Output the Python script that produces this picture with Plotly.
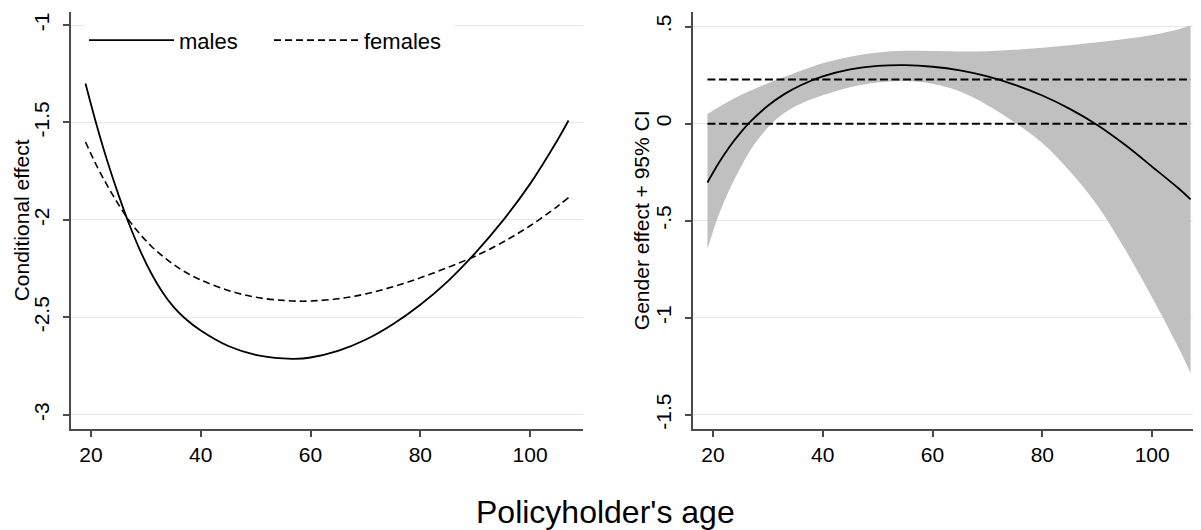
import plotly.graph_objects as go

# ---------------- data ----------------
age_left = [19, 21, 23, 25, 27, 29, 31, 33, 35, 37, 40, 45, 50, 55, 57, 60, 65, 70, 75, 80, 85, 90, 95, 100, 105, 107]
males = [-1.300, -1.510, -1.700, -1.870, -2.025, -2.160, -2.275, -2.370, -2.445, -2.502, -2.568, -2.647,
         -2.692, -2.711, -2.713, -2.706, -2.672, -2.615, -2.535, -2.435, -2.315, -2.170, -2.005, -1.815,
         -1.590, -1.490]
age_left_f = [19, 21, 23, 25, 27, 29, 31, 33, 35, 37, 40, 45, 50, 55, 58, 60, 65, 70, 75, 80, 85, 90, 95, 100, 105, 107]
females = [-1.600, -1.720, -1.825, -1.920, -2.005, -2.075, -2.135, -2.185, -2.228, -2.265, -2.308, -2.362,
           -2.397, -2.413, -2.417, -2.416, -2.405, -2.380, -2.343, -2.297, -2.244, -2.186, -2.115, -2.030,
           -1.930, -1.885]

age_right = [19, 21, 23, 25, 27, 30, 33, 36, 40, 45, 50, 55, 60, 65, 70, 75, 80, 85, 90, 95, 100, 105, 107]
gender_effect = [-0.303, -0.205, -0.120, -0.048, 0.015, 0.092, 0.152, 0.198, 0.243, 0.279, 0.297, 0.301,
                 0.293, 0.274, 0.243, 0.200, 0.145, 0.076, -0.007, -0.108, -0.222, -0.338, -0.390]
ci_upper = [0.050, 0.085, 0.117, 0.146, 0.172, 0.208, 0.240, 0.272, 0.311, 0.345, 0.366, 0.375, 0.374,
            0.371, 0.373, 0.380, 0.391, 0.404, 0.419, 0.436, 0.457, 0.488, 0.507]
ci_lower = [-0.646, -0.475, -0.340, -0.228, -0.130, -0.020, 0.055, 0.103, 0.146, 0.188, 0.212, 0.219, 0.205,
            0.165, 0.095, 0.005, -0.100, -0.245, -0.420, -0.645, -0.895, -1.165, -1.286]
ref_levels = [0.0, 0.227]
ref_span = [19, 107]

left_ticks = [-3, -2.5, -2, -1.5, -1]
left_ticktext = ["-3", "-2.5", "-2", "-1.5", "-1"]
right_ticks = [-1.5, -1, -0.5, 0, 0.5]
right_ticktext = ["-1.5", "-1", "-.5", "0", ".5"]
x_ticks = [20, 40, 60, 80, 100]

FONT = "Liberation Sans, Arial, sans-serif"
AXC = "#4a4a4a"
GRID = "#e6e6e6"

fig = go.Figure()

# left panel
fig.add_trace(go.Scatter(x=age_left, y=males, mode="lines", name="males",
                         line=dict(color="black", width=1.8, shape="spline"),
                         xaxis="x", yaxis="y"))
fig.add_trace(go.Scatter(x=age_left_f, y=females, mode="lines", name="females",
                         line=dict(color="black", width=1.6, dash="7px,4px", shape="spline"),
                         xaxis="x", yaxis="y"))

# right panel band
fig.add_trace(go.Scatter(x=age_right, y=ci_lower, mode="lines", showlegend=False,
                         line=dict(width=0, color="#c0c0c0", shape="spline"),
                         xaxis="x2", yaxis="y2"))
fig.add_trace(go.Scatter(x=age_right, y=ci_upper, mode="lines", showlegend=False,
                         line=dict(width=0, color="#c0c0c0", shape="spline"),
                         fill="tonexty", fillcolor="#c0c0c0",
                         xaxis="x2", yaxis="y2"))
for lvl in ref_levels:
    fig.add_trace(go.Scatter(x=ref_span, y=[lvl, lvl], mode="lines", showlegend=False,
                             line=dict(color="black", width=2, dash="8px,3.5px"),
                             xaxis="x2", yaxis="y2"))
fig.add_trace(go.Scatter(x=age_right, y=gender_effect, mode="lines", showlegend=False,
                         line=dict(color="black", width=1.8, shape="spline"),
                         xaxis="x2", yaxis="y2"))

axis_common = dict(showline=True, linecolor=AXC, linewidth=1.5, ticks="outside",
                   ticklen=6, tickwidth=1.5, tickcolor=AXC, zeroline=False,
                   tickfont=dict(family=FONT, size=21, color="black"))

# the page body adds an 8px offset, so margins are shifted to compensate
fig.update_layout(
    width=1201, height=530,
    margin=dict(l=63, r=8, t=4, b=109),
    paper_bgcolor="white", plot_bgcolor="white",
    font=dict(family=FONT, color="black"),
    xaxis=dict(domain=[0, 0.4534], range=[16.36, 109.7], tickvals=x_ticks,
               showgrid=False, anchor="y", **axis_common),
    yaxis=dict(domain=[0, 1], range=[-3.073, -0.933], tickvals=left_ticks,
               ticktext=left_ticktext, tickangle=-90, showgrid=True,
               gridcolor=GRID, gridwidth=1.3, anchor="x", ticklabelstandoff=6,
               **axis_common),
    xaxis2=dict(domain=[0.5504, 1], range=[16.36, 108.9], tickvals=x_ticks,
                showgrid=False, anchor="y2", **axis_common),
    yaxis2=dict(domain=[0, 1], range=[-1.573, 0.575], tickvals=right_ticks,
                ticktext=right_ticktext, tickangle=-90, showgrid=True,
                gridcolor=GRID, gridwidth=1.3, anchor="x2", ticklabelstandoff=6,
                **axis_common),
    legend=dict(orientation="h", x=0.0115, y=0.932, xanchor="left", yanchor="middle",
                bgcolor="white", font=dict(family=FONT, size=22, color="black"),
                itemwidth=85, entrywidth=85, traceorder="normal"),
    showlegend=True,
)

fig.add_annotation(text="Conditional effect", xref="paper", yref="paper",
                   x=-0.0435, y=0.5, textangle=-90, showarrow=False,
                   xanchor="center", yanchor="middle",
                   font=dict(family=FONT, size=21, color="black"))
fig.add_annotation(text="Gender effect + 95% CI", xref="paper", yref="paper",
                   x=0.505, y=0.5, textangle=-90, showarrow=False,
                   xanchor="center", yanchor="middle",
                   font=dict(family=FONT, size=21, color="black"))
fig.add_annotation(text="Policyholder's age", xref="paper", yref="paper",
                   x=0.4726, y=-0.198, showarrow=False,
                   xanchor="center", yanchor="middle",
                   font=dict(family=FONT, size=32, color="black"))

fig.write_html("out.html")
